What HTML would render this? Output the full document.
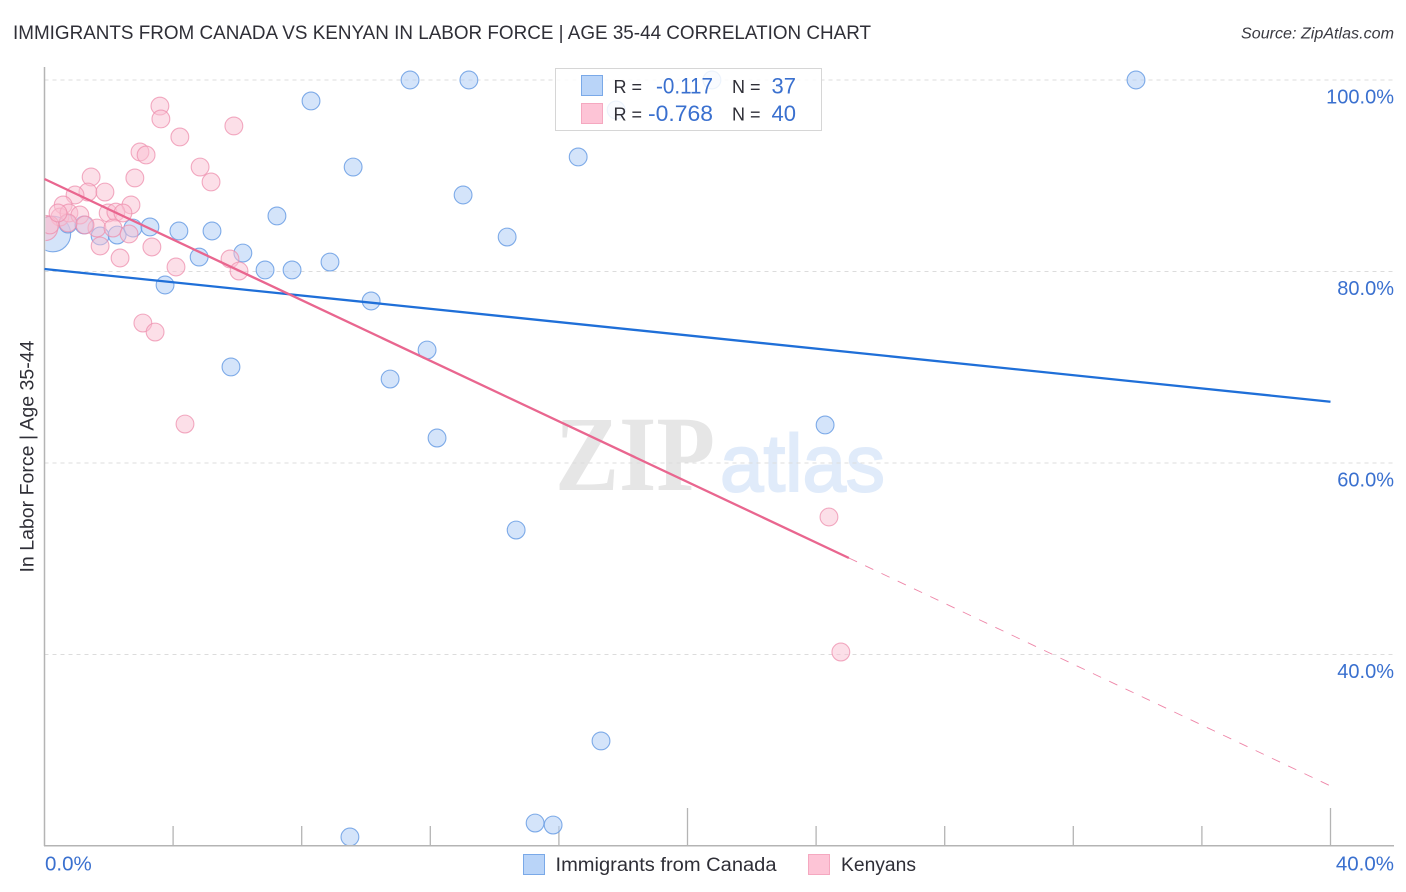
<!DOCTYPE html>
<html lang="en">
<head>
<meta charset="utf-8">
<title>Immigrants from Canada vs Kenyan in Labor Force | Age 35-44 Correlation Chart</title>
<style>
html,body{margin:0;padding:0;background:#fff;}
svg{display:block;font-family:"Liberation Sans",sans-serif;}
</style>
</head>
<body>
<svg id="chart" xmlns="http://www.w3.org/2000/svg" width="1406" height="892" viewBox="0 0 1406 892">
  <rect width="1406" height="892" fill="#ffffff"/>
  <defs>
    <clipPath id="plot-clip"><rect x="45.5" y="60" width="1350" height="785"/></clipPath>
  </defs>
  <text x="13" y="39" font-size="19.5" fill="#2f2f37" textLength="858" lengthAdjust="spacingAndGlyphs">IMMIGRANTS FROM CANADA VS KENYAN IN LABOR FORCE | AGE 35-44 CORRELATION CHART</text>
  <text x="1241" y="38.5" font-size="15.5" font-style="italic" fill="#3a3a42" textLength="153" lengthAdjust="spacingAndGlyphs">Source: ZipAtlas.com</text>

  <g>
    <text x="555" y="490" font-family="'Liberation Serif',serif" font-weight="bold" font-size="107" fill="#e6e6e6" textLength="160" lengthAdjust="spacingAndGlyphs">ZIP</text>
    <text x="720" y="491" font-size="81" fill="#e0ebfa" stroke="#e0ebfa" stroke-width="2" textLength="165" lengthAdjust="spacingAndGlyphs">atlas</text>
  </g>

  <g id="grid"></g>
  <g id="axes"></g>
  <g id="points" clip-path="url(#plot-clip)"></g>
  <g id="lines"></g>

  <text transform="translate(33.5,456.5) rotate(-90)" font-size="19" fill="#2f2f37" text-anchor="middle" textLength="232" lengthAdjust="spacingAndGlyphs">In Labor Force | Age 35-44</text>

  <g>
    <rect x="555.5" y="68.5" width="266" height="62" fill="#ffffff" fill-opacity="0.85" stroke="#d6d6d6" stroke-width="1"/>
    <rect x="581.5" y="75.5" width="21" height="20" fill="#b9d4f8" stroke="#7aa9e8" stroke-width="1"/>
    <rect x="581.5" y="103.5" width="21" height="20" fill="#fdc4d6" stroke="#f5a8c0" stroke-width="1"/>
    <text x="613.5" y="93" font-size="18" fill="#2f2f37">R =</text>
    <text x="656" y="93.5" font-size="22" fill="#3a70cf" textLength="57" lengthAdjust="spacingAndGlyphs">-0.117</text>
    <text x="732" y="93" font-size="18" fill="#2f2f37">N =</text>
    <text x="796" y="93.5" font-size="22" fill="#3a70cf" text-anchor="end">37</text>
    <text x="613.5" y="120.5" font-size="18" fill="#2f2f37">R =</text>
    <text x="648" y="121" font-size="22" fill="#3a70cf" textLength="65" lengthAdjust="spacingAndGlyphs">-0.768</text>
    <text x="732" y="120.5" font-size="18" fill="#2f2f37">N =</text>
    <text x="796" y="121" font-size="22" fill="#3a70cf" text-anchor="end">40</text>
  </g>

  <g>
    <rect x="523.5" y="854.5" width="21" height="20" fill="#b9d4f8" stroke="#7aa9e8" stroke-width="1"/>
    <text x="555.5" y="871" font-size="19" fill="#2f2f37" textLength="221" lengthAdjust="spacingAndGlyphs">Immigrants from Canada</text>
    <rect x="808.5" y="854.5" width="21" height="20" fill="#fdc4d6" stroke="#f5a8c0" stroke-width="1"/>
    <text x="841" y="871" font-size="19" fill="#2f2f37" textLength="75" lengthAdjust="spacingAndGlyphs">Kenyans</text>
  </g>
</svg>

<script>
const blueX = [0.26,0.73,1.23,1.73,2.26,2.75,3.28,3.75,4.18,4.81,5.21,5.80,6.17,6.86,7.23,7.70,8.29,8.88,9.50,9.60,10.16,10.75,11.37,11.90,12.21,13.02,13.20,14.39,14.67,15.26,15.82,16.60,17.31,17.78,20.76,24.28,33.95];
const blueY = [83.92,84.96,84.86,83.71,83.81,84.54,84.65,78.59,84.23,81.51,84.23,70.03,81.93,80.16,85.80,80.16,97.81,80.99,20.94,90.91,76.92,68.77,100,71.80,62.61,87.99,100,83.60,53.00,22.40,22.19,91.96,30.97,96.87,100,63.97,100];
const blueCounts = [4,1,1,1,1,1,1,1,1,1,1,1,1,1,1,1,1,1,1,1,1,1,1,1,1,1,1,1,1,1,1,1,1,1,1,1,1];
const pinkX = [3.59,3.62,4.21,5.89,2.97,3.16,4.84,5.18,1.45,2.81,1.35,1.88,0.95,0.58,2.69,0.48,0.76,1.10,1.98,2.22,2.44,0.02,1.63,2.13,2.63,1.73,3.34,2.35,4.09,5.77,6.05,3.06,3.44,4.37,24.40,24.77,0.17,1.26,0.73,0.42];
const pinkY = [97.28,95.93,94.05,95.20,92.48,92.17,90.91,89.35,89.87,89.77,88.30,88.30,87.99,86.95,86.95,85.69,86.11,85.90,86.11,86.21,86.11,84.54,84.54,84.54,83.92,82.66,82.56,81.41,80.47,81.31,80.05,74.62,73.68,64.07,54.36,40.26,84.86,84.86,85.07,86.11];
const pinkCounts = [1,1,1,1,1,1,1,1,1,1,1,1,1,1,1,1,1,1,1,1,1,2,1,1,1,1,1,1,1,1,1,1,1,1,1,1,1,1,1,1];
const blueTrendX = [0,40];
const blueTrendY = [80.26,66.4];
const pinkTrendX = [0,25.02];
const pinkTrendY = [89.66,50.08];
const pinkExtensionX = [25.02,40];
const pinkExtensionY = [50.08,26.27];
const yTicks = [100,80,60,40];
const yTickLabels = ["100.0%","80.0%","60.0%","40.0%"];
const xTicks = [0,4,8,12,16,20,24,28,32,36,40];
const xMajorTicks = [20,40];
const xEndValues = [0,40];
const xEndLabels = ["0.0%","40.0%"];

const NS = "http://www.w3.org/2000/svg";
function sx(v){ return 44.5 + v * 32.15; }
function sy(v){ return 80 + (100 - v) * 9.575; }
function make(tag, attrs, parent){
  const el = document.createElementNS(NS, tag);
  for (const k in attrs) el.setAttribute(k, attrs[k]);
  parent.appendChild(el);
  return el;
}
const grid = document.getElementById("grid");
const axes = document.getElementById("axes");
const points = document.getElementById("points");
const lines = document.getElementById("lines");

yTicks.forEach(function(t, i){
  const g = make("line", {x1:44.5, x2:1394, y1:sy(t), y2:sy(t), stroke:"#dcdcdc", "stroke-width":1, "stroke-dasharray":"4 4"}, grid);
  
  
  const lab = make("text", {x:1394, y:sy(t)+23.5, "font-size":20, fill:"#3a70cf", "text-anchor":"end"}, axes);
  lab.textContent = yTickLabels[i];
  
  
});

const yAxis = make("line", {x1:44.5, x2:44.5, y1:67, y2:846, stroke:"#b4b4b4", "stroke-width":1.5}, axes);


const xAxis = make("line", {x1:44, x2:1394, y1:845.7, y2:845.7, stroke:"#b4b4b4", "stroke-width":1.5}, axes);



xTicks.forEach(function(t){
  if (t === 0) return;
  const top = xMajorTicks.indexOf(t) >= 0 ? 808 : 826;
  const tick = make("line", {x1:sx(t), x2:sx(t), y1:top, y2:846, stroke:"#b4b4b4", "stroke-width":1.3}, axes);
  
  
});

xEndValues.forEach(function(t, i){
  const isFirst = i === 0;
  const lab = make("text", {x:isFirst ? sx(t) + 0.5 : 1394, y:870.5, "font-size":20.5, fill:"#3a70cf", "text-anchor":isFirst ? "start" : "end"}, axes);
  lab.textContent = xEndLabels[i];
  
  
});

function radius(count){ return 8.9 * Math.sqrt(count); }

blueX.forEach(function(v, i){
  const c = make("circle", {cx:sx(v), cy:sy(blueY[i]), r:radius(blueCounts[i]), fill:"#b5d1f7", "fill-opacity":0.58, stroke:"#6a9de4", "stroke-opacity":0.85, "stroke-width":1.1}, points);
  
  
});
pinkX.forEach(function(v, i){
  const c = make("circle", {cx:sx(v), cy:sy(pinkY[i]), r:radius(pinkCounts[i]), fill:"#f9bfd2", "fill-opacity":0.5, stroke:"#ee8fae", "stroke-opacity":0.75, "stroke-width":1.1}, points);
  
  
});

const blueLine = make("line", {x1:sx(blueTrendX[0]), y1:sy(blueTrendY[0]), x2:sx(blueTrendX[1]), y2:sy(blueTrendY[1]), stroke:"#1f6fd8", "stroke-width":2.3}, lines);


const pinkLine = make("line", {x1:sx(pinkTrendX[0]), y1:sy(pinkTrendY[0]), x2:sx(pinkTrendX[1]), y2:sy(pinkTrendY[1]), stroke:"#e9668f", "stroke-width":2.3}, lines);


const pinkDash = make("line", {x1:sx(pinkExtensionX[0]), y1:sy(pinkExtensionY[0]), x2:sx(pinkExtensionX[1]), y2:sy(pinkExtensionY[1]), stroke:"#ee86a8", "stroke-width":0.9, "stroke-dasharray":"9 9"}, lines);


</script>
</body>
</html>
